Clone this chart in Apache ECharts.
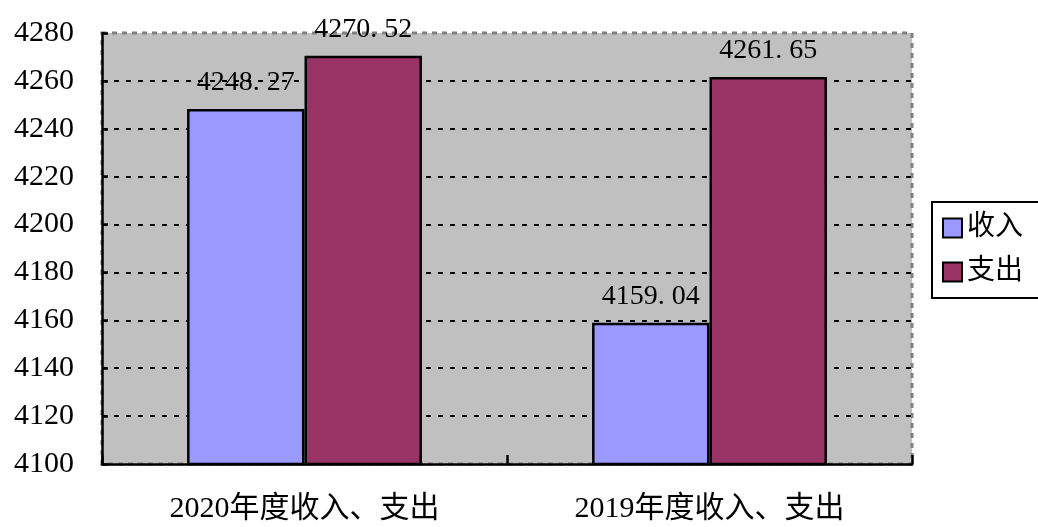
<!DOCTYPE html>
<html lang="zh">
<head>
    <meta charset="UTF-8">
    <title>年度收入、支出</title>
    <script src="https://cdn.jsdelivr.net/npm/echarts@6/dist/echarts.min.js"></script>
    <style>
        html, body { margin: 0; padding: 0; background: #fff; }
        #main { width: 1038px; height: 527px; }
    </style>
</head>
<body>
<div id="main"></div>
<script type="text/javascript">
    // 数据
    var categories = ['2020年度收入、支出', '2019年度收入、支出'];
    var seriesNames = ['收入', '支出'];
    var incomeData = [4248.27, 4159.04];
    var expenseData = [4270.52, 4261.65];
    var yTicks = [4100, 4120, 4140, 4160, 4180, 4200, 4220, 4240, 4260, 4280];

    var font = "'Liberation Serif', 'Noto Sans CJK SC', serif";

    var labelOpt = {
        show: true,
        position: 'top',
        distance: 12,
        color: '#000',
        fontFamily: font,
        fontSize: 28,
        formatter: function (p) {
            return p.value.toFixed(2).replace('.', '. ');
        }
    };

    var myChart = echarts.init(document.getElementById('main'));
    myChart.setOption({
        animation: false,
        backgroundColor: '#fff',
        textStyle: { fontFamily: font, color: '#000' },
        grid: {
            left: 102, right: 126, top: 33, bottom: 63,
            show: true,
            backgroundColor: '#C0C0C0',
            borderColor: '#808080',
            borderWidth: 3,
            borderType: [5, 5]
        },
        legend: {
            orient: 'vertical',
            left: 932,
            top: 202,
            data: seriesNames,
            icon: 'rect',
            itemWidth: 19,
            itemHeight: 19,
            itemGap: 16,
            padding: [12, 40, 12, 10],
            borderColor: '#000',
            borderWidth: 2,
            textStyle: { fontSize: 28, color: '#000', fontFamily: font }
        },
        xAxis: {
            type: 'category',
            data: categories,
            axisLine: { lineStyle: { color: '#000', width: 2.5 } },
            axisTick: { show: true, inside: true, length: 9, lineStyle: { color: '#000', width: 2.5 } },
            axisLabel: { color: '#000', fontSize: 30, margin: 30, fontFamily: font }
        },
        yAxis: {
            type: 'value',
            min: yTicks[0],
            max: yTicks[yTicks.length - 1],
            interval: 20,
            axisLine: { show: true, lineStyle: { color: '#000', width: 2.5 } },
            axisTick: { show: true, inside: true, length: 6, lineStyle: { color: '#000', width: 2.5 } },
            axisLabel: {
                color: '#000', fontSize: 30, margin: 28, fontFamily: font,
                formatter: function (v) { return String(v); }
            },
            splitLine: {
                show: true,
                showMinLine: false,
                showMaxLine: false,
                lineStyle: { color: '#000', width: 2, type: [5, 7] }
            }
        },
        series: [
            {
                name: seriesNames[0],
                type: 'bar',
                data: incomeData,
                barGap: 0,
                barCategoryGap: '42%',
                itemStyle: { color: '#9999FF', borderColor: '#000', borderWidth: 2.5 },
                label: labelOpt
            },
            {
                name: seriesNames[1],
                type: 'bar',
                data: expenseData,
                barGap: 0,
                barCategoryGap: '42%',
                itemStyle: { color: '#993366', borderColor: '#000', borderWidth: 2.5 },
                label: labelOpt
            }
        ]
    });
</script>
</body>
</html>
